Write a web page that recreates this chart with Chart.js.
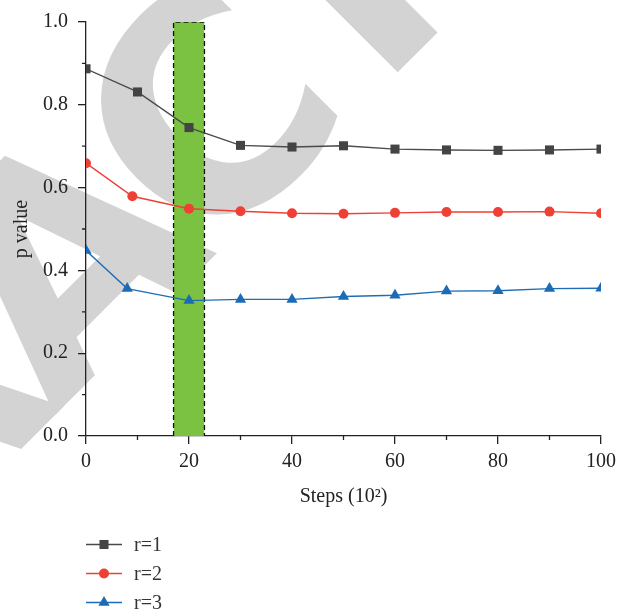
<!DOCTYPE html>
<html>
<head>
<meta charset="utf-8">
<script src="https://cdn.jsdelivr.net/npm/chart.js@4.4.1/dist/chart.umd.min.js"></script>
<style>
  html, body { margin: 0; padding: 0; background: #fff; }
</style>
</head>
<body>
<canvas id="pvalue" width="631" height="611"></canvas>
<script>
// values
var seriesNames = ['r=1', 'r=2', 'r=3'];
var r1Steps = [0, 10, 20, 30, 40, 50, 60, 70, 80, 90, 100];
var r1Values = [0.887, 0.831, 0.745, 0.702, 0.698, 0.701, 0.693, 0.691, 0.690, 0.691, 0.693];
var r2Steps = [0, 9, 20, 30, 40, 50, 60, 70, 80, 90, 100];
var r2Values = [0.659, 0.579, 0.549, 0.543, 0.538, 0.537, 0.539, 0.541, 0.541, 0.542, 0.538];
var r3Steps = [0, 8, 20, 30, 40, 50, 60, 70, 80, 90, 100];
var r3Values = [0.448, 0.356, 0.327, 0.330, 0.330, 0.337, 0.340, 0.350, 0.351, 0.356, 0.357];
// highlighted window around 20 (x 10^2 steps)
var bandSteps = [17, 17, 23, 23];
var bandValues = [0, 1, 1, 0];
var xTicks = [0, 20, 40, 60, 80, 100];
var yTicks = [0.0, 0.2, 0.4, 0.6, 0.8, 1.0];

function points(xs, ys) {
    return xs.map(function (x, i) { return { x: x, y: ys[i] }; });
}

var serif = "'Liberation Serif', 'Times New Roman', serif";
Chart.defaults.font.family = serif;
Chart.defaults.font.size = 20;
Chart.defaults.color = '#222';

// big grey watermark behind the plot
var watermark = {
    id: 'watermark',
    beforeDraw: function (chart) {
        var ctx = chart.ctx;
        ctx.save();
        ctx.fillStyle = '#d3d3d3';
        ctx.font = "bold 300px 'DejaVu Sans', sans-serif";
        ctx.letterSpacing = '-20px';
        // anchor on the middle of the C
        ctx.translate(195, 116);
        ctx.rotate(-Math.PI / 4);
        var before = ctx.measureText('RETRA').width;
        var c = ctx.measureText('C');
        ctx.textBaseline = 'alphabetic';
        ctx.fillText('RETRACTED', -(before + c.width / 2), c.actualBoundingBoxAscent / 2);
        ctx.restore();
    }
};

// short minor ticks halfway between the labelled ones
var minorTicks = {
    id: 'minorTicks',
    afterDraw: function (chart) {
        var ctx = chart.ctx;
        var xs = chart.scales.x, ys = chart.scales.y;
        var area = chart.chartArea;
        ctx.save();
        ctx.strokeStyle = '#222';
        ctx.lineWidth = 1.3;
        ctx.beginPath();
        for (var i = 0; i < xTicks.length - 1; i++) {
            var px = xs.getPixelForValue((xTicks[i] + xTicks[i + 1]) / 2);
            ctx.moveTo(px, area.bottom);
            ctx.lineTo(px, area.bottom + 4);
        }
        for (var j = 0; j < yTicks.length - 1; j++) {
            var py = ys.getPixelForValue((yTicks[j] + yTicks[j + 1]) / 2);
            ctx.moveTo(area.left, py);
            ctx.lineTo(area.left - 4, py);
        }
        ctx.stroke();
        ctx.restore();
    }
};

// one-column legend under the x axis title
var stackedLegend = {
    id: 'stackedLegend',
    afterDraw: function (chart) {
        var ctx = chart.ctx;
        ctx.save();
        for (var i = 0; i < seriesNames.length; i++) {
            var ds = chart.data.datasets[i];
            var y = 544.5 + i * 29;
            ctx.strokeStyle = ds.borderColor;
            ctx.lineWidth = 1.5;
            ctx.beginPath();
            ctx.moveTo(86, y);
            ctx.lineTo(122, y);
            ctx.stroke();
            ctx.fillStyle = ds.pointBackgroundColor;
            ctx.strokeStyle = ds.pointBackgroundColor;
            Chart.helpers.drawPoint(ctx, {
                pointStyle: ds.pointStyle, radius: ds.pointRadius, rotation: 0, borderWidth: 0
            }, 104, y);
            ctx.fillStyle = '#333';
            ctx.font = '20px ' + serif;
            ctx.textBaseline = 'middle';
            ctx.textAlign = 'left';
            ctx.fillText(seriesNames[i], 134, y + 1);
        }
        ctx.restore();
    }
};

var ctx = document.getElementById('pvalue').getContext('2d');
var chart = new Chart(ctx, {
    type: 'line',
    data: {
        datasets: [{
            label: seriesNames[0],
            data: points(r1Steps, r1Values),
            borderColor: '#4a4a4a',
            borderWidth: 1.4,
            pointStyle: 'rect',
            pointRadius: 6.4,
            pointBackgroundColor: '#444444',
            pointBorderWidth: 0
        }, {
            label: seriesNames[1],
            data: points(r2Steps, r2Values),
            borderColor: '#ee4035',
            borderWidth: 1.4,
            pointStyle: 'circle',
            pointRadius: 5,
            pointBackgroundColor: '#ee4035',
            pointBorderWidth: 0
        }, {
            label: seriesNames[2],
            data: points(r3Steps, r3Values),
            borderColor: '#1f6db6',
            borderWidth: 1.4,
            pointStyle: 'triangle',
            pointRadius: 6.5,
            pointBackgroundColor: '#1c6cb5',
            pointBorderWidth: 0
        }, {
            label: 'window',
            data: points(bandSteps, bandValues),
            borderColor: '#111',
            borderWidth: 1.3,
            borderDash: [5, 3],
            backgroundColor: '#7cc242',
            fill: 'origin',
            pointRadius: 0,
            tension: 0
        }]
    },
    options: {
        responsive: false,
        animation: false,
        layout: { padding: { left: 10, top: 20, right: 30, bottom: 100 } },
        plugins: {
            legend: { display: false },
            tooltip: { enabled: false }
        },
        scales: {
            x: {
                type: 'linear',
                min: 0,
                max: 100,
                afterFit: function (scale) { scale.height = 75; },
                ticks: { stepSize: 20, padding: 6, maxRotation: 0 },
                grid: { drawOnChartArea: false, tickLength: 8, color: '#222', lineWidth: 1.3 },
                border: { color: '#222', width: 1.3 },
                title: { display: true, text: 'Steps (10²)', padding: { top: 0, bottom: 2 } }
            },
            y: {
                min: 0,
                max: 1,
                afterFit: function (scale) { scale.width = 76; },
                ticks: {
                    stepSize: 0.2,
                    padding: 10,
                    callback: function (v) { return v.toFixed(1); }
                },
                grid: { drawOnChartArea: false, tickLength: 8, color: '#222', lineWidth: 1.3 },
                border: { color: '#222', width: 1.3 },
                title: { display: true, text: 'p value', padding: { top: 0, bottom: 0 } }
            }
        }
    },
    plugins: [watermark, minorTicks, stackedLegend]
});
</script>
</body>
</html>
